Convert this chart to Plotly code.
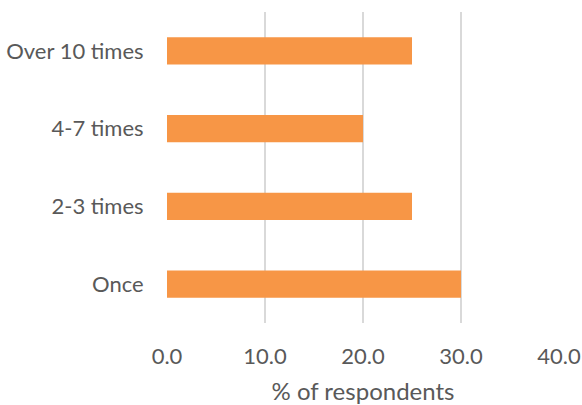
import plotly.graph_objects as go

categories = ["Once", "2-3 times", "4-7 times", "Over 10 times"]
values = [30, 25, 20, 25]
x_ticks = [0, 10, 20, 30, 40]
x_tick_labels = ["0.0", "10.0", "20.0", "30.0", "40.0"]

font_family = "Lato, 'Open Sans', sans-serif"
text_color = "#595959"

fig = go.Figure(go.Bar(
    y=categories,
    x=values,
    orientation="h",
    marker=dict(color="#F79646", line=dict(width=0)),
    width=0.35,
))

fig.update_layout(
    width=582, height=405,
    margin=dict(l=167, r=23, t=12, b=82),
    paper_bgcolor="white", plot_bgcolor="white",
    font=dict(family=font_family, size=22, color=text_color),
    showlegend=False,
)
fig.update_xaxes(
    range=[0, 40], automargin=False,
    tickvals=x_ticks, ticktext=x_tick_labels,
    showgrid=True, gridcolor="#D9D9D9", gridwidth=1.5,
    zeroline=False, showline=False,
    ticks="outside", ticklen=14, tickcolor="rgba(0,0,0,0)",
    title=dict(text="% of respondents", standoff=26, font=dict(size=24, color=text_color)),
    tickfont=dict(size=22, color=text_color),
)
fig.update_yaxes(
    categoryorder="array", categoryarray=categories, automargin=False,
    showgrid=False, zeroline=False, showline=False,
    ticks="outside", ticklen=18, tickcolor="rgba(0,0,0,0)",
    tickfont=dict(size=22, color=text_color),
)

fig.write_html("out.html")
